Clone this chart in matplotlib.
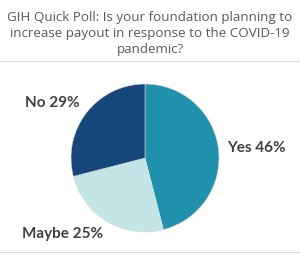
import matplotlib
matplotlib.use("Agg")
import matplotlib.pyplot as plt
from matplotlib.lines import Line2D

categories = ["Yes", "Maybe", "No"]
values = [46, 25, 29]
colors = ["#2190AC", "#C3E5E5", "#15477A"]
title = "GIH Quick Poll: Is your foundation planning to\nincrease payout in response to the COVID-19\npandemic?"

fig = plt.figure(figsize=(3.0, 2.58), dpi=100)
ax = fig.add_axes([0, 0, 1, 1])

ax.pie(values, colors=colors, startangle=90, counterclock=False,
       center=(145, 100), radius=74, frame=True,
       wedgeprops=dict(edgecolor="#d8d8d8", linewidth=0.4))
ax.set_xlim(0, 300)
ax.set_ylim(0, 258)
ax.set_aspect("equal")
ax.axis("off")

fig.text(0.5, 1 - 33 / 258, title, ha="center", va="center", fontsize=9.6,
         color="#595959", family="Open Sans", linespacing=1.3)

fig.add_artist(Line2D([0, 1], [1 - 61 / 258, 1 - 61 / 258], color="#dcdcdc", lw=0.8))
fig.add_artist(Line2D([0, 1], [1 - 252 / 258, 1 - 252 / 258], color="#dcdcdc", lw=0.8))

label_pos = {"Yes": (227, 148, "left"), "Maybe": (22, 234, "left"), "No": (25, 103, "left")}
for c, v in zip(categories, values):
    x, y, ha = label_pos[c]
    ax.text(x, 258 - y, f"{c} {v}%", ha=ha, va="center", fontsize=11,
            fontweight="bold", color="#404040", family="Lato")

fig.savefig("out.png", dpi=100)
